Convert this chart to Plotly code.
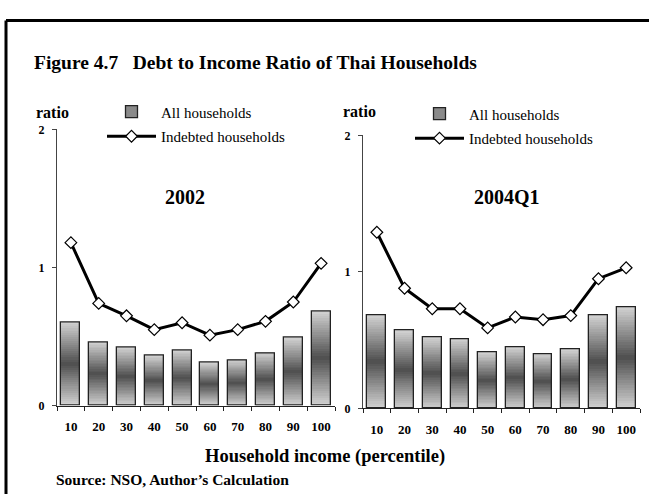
import plotly.graph_objects as go

# Income deciles (percentile upper bounds)
percentiles = ["10", "20", "30", "40", "50", "60", "70", "80", "90", "100"]

# Debt to income ratio, 2002
all_2002 = [0.60, 0.46, 0.42, 0.36, 0.40, 0.31, 0.33, 0.38, 0.49, 0.68]
indebted_2002 = [1.18, 0.74, 0.65, 0.55, 0.60, 0.51, 0.55, 0.61, 0.75, 1.03]

# Debt to income ratio, 2004 Q1
all_2004 = [0.68, 0.57, 0.52, 0.51, 0.41, 0.45, 0.40, 0.43, 0.68, 0.74]
indebted_2004 = [1.29, 0.88, 0.73, 0.73, 0.59, 0.67, 0.65, 0.68, 0.95, 1.03]

W, H = 649, 501
SERIF = "Liberation Serif, Times New Roman, serif"
N_SEG = 40          # slices used to shade each bar
BAR_W = 0.68
LIGHT, DARK = 210, 78


def px_x(p):
    return p / W


def px_y(p):
    return 1 - p / H


def shade(t):
    # t = 0 at the bar foot, 1 at its top: light at both ends, dark mid-bar
    d = abs(2 * t - 1)
    g = int(round(DARK + (LIGHT - DARK) * d))
    return f"rgb({g},{g},{g})"


fig = go.Figure()


def add_panel(values, line_vals, xa, ya, legend):
    # stacked slices, each one filled with its own shade of grey
    for i in range(N_SEG):
        fig.add_trace(go.Bar(
            x=percentiles,
            y=[v / N_SEG for v in values],
            base=[v * i / N_SEG for v in values],
            width=BAR_W,
            marker=dict(color=shade((i + 0.5) / N_SEG), line=dict(width=0)),
            xaxis=xa, yaxis=ya, showlegend=False, hoverinfo="skip",
        ))
    # outline of each bar
    fig.add_trace(go.Bar(
        x=percentiles, y=values, width=BAR_W,
        marker=dict(color="rgba(0,0,0,0)", line=dict(color="#222", width=1.3)),
        xaxis=xa, yaxis=ya, showlegend=False, name="All households",
    ))
    # legend entries
    fig.add_trace(go.Bar(
        x=[None], y=[None], name="All households",
        marker=dict(color="#8a8a8a", line=dict(color="#222", width=1.3)),
        xaxis=xa, yaxis=ya, legend=legend, legendgroup="a" + legend,
    ))
    fig.add_trace(go.Scatter(
        x=percentiles, y=line_vals, mode="lines+markers",
        name="Indebted households",
        line=dict(color="black", width=3),
        marker=dict(symbol="diamond", size=9, color="white",
                    line=dict(color="black", width=1.2)),
        xaxis=xa, yaxis=ya, legend=legend, legendgroup="b" + legend,
    ))


add_panel(all_2002, indebted_2002, "x", "y", "legend")
add_panel(all_2004, indebted_2004, "x2", "y2", "legend2")

xcommon = dict(
    type="category", range=[-0.5, 9.5], showline=True, linecolor="#222",
    linewidth=1, ticks="outside", tickson="boundaries", ticklen=4,
    tickcolor="#222", showgrid=False, zeroline=False, ticklabelstandoff=9,
    tickangle=0,
    tickfont=dict(family=SERIF, size=13, color="black", weight="bold"),
)
ycommon = dict(
    range=[0, 2], tickvals=[0, 1, 2], showline=True, linecolor="#444",
    linewidth=1, ticks="outside", ticklen=4, tickcolor="#444",
    showgrid=False, zeroline=False, ticklabelstandoff=5,
    tickfont=dict(family=SERIF, size=12, color="black", weight="bold"),
)

legend_common = dict(
    xanchor="left", yanchor="top", bgcolor="rgba(0,0,0,0)",
    traceorder="grouped", tracegroupgap=2, itemwidth=49,
    font=dict(family=SERIF, size=15, color="black"),
)

fig.update_layout(
    width=W, height=H,
    margin=dict(l=0, r=0, t=0, b=0),
    paper_bgcolor="white", plot_bgcolor="white",
    barmode="overlay", bargap=0,
    font=dict(family=SERIF, color="black"),
    xaxis=dict(domain=[px_x(57), px_x(335)], anchor="y", **xcommon),
    yaxis=dict(domain=[px_y(410), px_y(126)], anchor="x", **ycommon),
    xaxis2=dict(domain=[px_x(363), px_x(640)], anchor="y2", **xcommon),
    yaxis2=dict(domain=[px_y(413), px_y(132)], anchor="x2", **ycommon),
    legend=dict(x=px_x(102), y=px_y(91), **legend_common),
    legend2=dict(x=px_x(410), y=px_y(93), **legend_common),
    showlegend=True,
)

annotations = [
    dict(text="<b>Figure 4.7   Debt to Income Ratio of Thai Households</b>",
         x=px_x(32), y=px_y(57), xanchor="left", font=dict(size=19.5)),
    dict(text="<b>ratio</b>", x=px_x(52), y=px_y(109), font=dict(size=16)),
    dict(text="<b>ratio</b>", x=px_x(360), y=px_y(107), font=dict(size=16)),
    dict(text="<b>2002</b>", x=px_x(185), y=px_y(195), font=dict(size=20)),
    dict(text="<b>2004Q1</b>", x=px_x(507), y=px_y(195), font=dict(size=20)),
    dict(text="<b>Household income (percentile)</b>", x=px_x(325),
         y=px_y(462), font=dict(size=18.5)),
    dict(text="<b>Source: NSO, Author\u2019s Calculation</b>", x=px_x(54),
         y=px_y(486), xanchor="left", font=dict(size=15.5)),
]
for a in annotations:
    a.setdefault("xanchor", "center")
    a.setdefault("yanchor", "middle")
    a.update(xref="paper", yref="paper", showarrow=False)
    a["font"] = dict(family=SERIF, color="black", **a["font"])
fig.update_layout(annotations=annotations)

# frame along the top and left edges
fig.add_shape(type="line", xref="paper", yref="paper",
              x0=px_x(6), x1=1, y0=px_y(14), y1=px_y(14),
              line=dict(color="black", width=3))
fig.add_shape(type="line", xref="paper", yref="paper",
              x0=px_x(6), x1=px_x(6), y0=px_y(14), y1=0,
              line=dict(color="black", width=3))

fig.write_html("out.html")
